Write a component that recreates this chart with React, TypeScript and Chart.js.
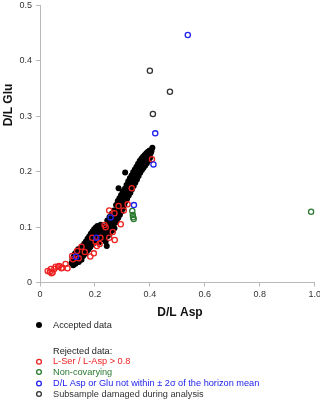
import React, { useEffect, useRef } from "react";
import { Chart, registerables } from "chart.js";

Chart.register(...registerables);

// D/L Asp (x) vs D/L Glu (y)
const acceptedData: [number, number][] = [
  [0.115, 0.035], [0.118, 0.042], [0.121, 0.031], [0.123, 0.047], [0.125, 0.038], [0.127, 0.052],
  [0.129, 0.034], [0.131, 0.044], [0.133, 0.056], [0.135, 0.040], [0.137, 0.049], [0.139, 0.060],
  [0.141, 0.037], [0.143, 0.053], [0.145, 0.045], [0.147, 0.062], [0.149, 0.050], [0.151, 0.041],
  [0.153, 0.058], [0.155, 0.066], [0.157, 0.048], [0.159, 0.055],
  [0.161, 0.070], [0.163, 0.061], [0.165, 0.052], [0.167, 0.074], [0.169, 0.065], [0.171, 0.057],
  [0.173, 0.079], [0.175, 0.068], [0.177, 0.060], [0.179, 0.083], [0.181, 0.073], [0.183, 0.064],
  [0.185, 0.088], [0.187, 0.077], [0.189, 0.068], [0.191, 0.092], [0.193, 0.081], [0.195, 0.071],
  [0.197, 0.096], [0.199, 0.086], [0.201, 0.075], [0.203, 0.099], [0.205, 0.090], [0.207, 0.079],
  [0.209, 0.102], [0.211, 0.093], [0.213, 0.083], [0.215, 0.072], [0.217, 0.097], [0.219, 0.088],
  [0.221, 0.104], [0.223, 0.078], [0.225, 0.093], [0.227, 0.084], [0.229, 0.100], [0.231, 0.090],
  [0.233, 0.081], [0.235, 0.096], [0.237, 0.087], [0.239, 0.074], [0.243, 0.066],
  [0.241, 0.102], [0.243, 0.093], [0.245, 0.112], [0.247, 0.084], [0.249, 0.106], [0.251, 0.097],
  [0.253, 0.118], [0.255, 0.089], [0.257, 0.109], [0.259, 0.100], [0.261, 0.124], [0.263, 0.094],
  [0.265, 0.113], [0.267, 0.104], [0.269, 0.130], [0.271, 0.098], [0.273, 0.119], [0.275, 0.108],
  [0.277, 0.140], [0.279, 0.112], [0.281, 0.126], [0.283, 0.147], [0.285, 0.117], [0.286, 0.170],
  [0.287, 0.134], [0.289, 0.152], [0.291, 0.122], [0.293, 0.140], [0.295, 0.158], [0.297, 0.128],
  [0.299, 0.146], [0.301, 0.164], [0.303, 0.134], [0.305, 0.152], [0.307, 0.140], [0.309, 0.169],
  [0.310, 0.1985], [0.311, 0.146], [0.313, 0.158], [0.315, 0.176], [0.317, 0.151], [0.319, 0.166],
  [0.321, 0.182], [0.323, 0.157], [0.325, 0.172], [0.327, 0.188], [0.329, 0.162], [0.331, 0.178],
  [0.333, 0.193], [0.335, 0.168], [0.337, 0.184], [0.339, 0.199], [0.341, 0.174], [0.343, 0.190],
  [0.345, 0.204], [0.347, 0.180], [0.349, 0.196], [0.351, 0.209], [0.353, 0.186], [0.355, 0.201],
  [0.357, 0.214], [0.359, 0.192], [0.361, 0.206], [0.363, 0.219], [0.365, 0.198], [0.367, 0.211],
  [0.369, 0.223], [0.371, 0.203], [0.373, 0.215], [0.375, 0.227], [0.377, 0.207], [0.379, 0.219],
  [0.381, 0.230], [0.383, 0.211], [0.385, 0.222], [0.387, 0.233], [0.389, 0.215], [0.391, 0.226],
  [0.393, 0.236], [0.395, 0.220], [0.397, 0.229], [0.399, 0.238], [0.401, 0.225], [0.403, 0.233],
  [0.406, 0.237], [0.409, 0.243],
];

const serAspData: [number, number][] = [
  [0.4075, 0.2225], [0.334, 0.170], [0.319, 0.141], [0.286, 0.138], [0.305, 0.130], [0.252, 0.130],
  [0.271, 0.125], [0.294, 0.105], [0.235, 0.1036], [0.239, 0.0995], [0.265, 0.091], [0.220, 0.0807],
  [0.252, 0.0807], [0.272, 0.0766], [0.190, 0.0807], [0.2025, 0.0735], [0.207, 0.0658], [0.217, 0.0694],
  [0.163, 0.055], [0.151, 0.0645], [0.135, 0.0568], [0.117, 0.0477], [0.141, 0.0436], [0.183, 0.047],
  [0.196, 0.0526], [0.120, 0.042], [0.093, 0.0333], [0.100, 0.0256], [0.082, 0.0267], [0.066, 0.0285],
  [0.052, 0.0243], [0.040, 0.0243], [0.028, 0.0207], [0.042, 0.0165], [0.057, 0.0285], [0.070, 0.0297],
  [0.046, 0.018], [0.036, 0.0195], [0.078, 0.0255],
];

const nonCovaryingData: [number, number][] = [
  [0.336, 0.129], [0.338, 0.1216], [0.339, 0.1175], [0.341, 0.1144], [0.987, 0.1276],
];

const outsideMeanData: [number, number][] = [
  [0.538, 0.4465], [0.4195, 0.269], [0.413, 0.213], [0.342, 0.1396], [0.257, 0.1174],
  [0.205, 0.0807], [0.131, 0.0465],
];

const damagedData: [number, number][] = [
  [0.400, 0.382], [0.411, 0.304], [0.473, 0.344],
];

const xRange = [0, 1];
const xStep = 0.2;
const yRange = [0, 0.5];
const yStep = 0.1;

const xTitle = "D/L Asp";
const yTitle = "D/L Glu";
const acceptedLabel = "Accepted data";
const rejectedHeader = "Rejected data:";
const rejectedLabels = [
  "L-Ser / L-Asp > 0.8",
  "Non-covarying",
  "D/L Asp or Glu not within ± 2σ of the horizon mean",
  "Subsample damaged during analysis",
];

const RED = "#ee2222";
const GREEN = "#2a7a30";
const BLUE = "#2222ee";
const DARK = "#333333";
const AXIS = "#b8b8b8";
const FONT = "'Liberation Sans', Arial, Helvetica, sans-serif";
const rejectedColors = [RED, GREEN, BLUE, DARK];
const rejectedRowY = [361.7, 372, 383.5, 394];

const toPoints = (arr: [number, number][]) => arr.map(([x, y]) => ({ x, y }));

const extraTextPlugin = {
  id: "extraText",
  afterDraw(chart: any) {
    const ctx: CanvasRenderingContext2D = chart.ctx;
    ctx.save();

    // y tick labels, from the library's own y scale
    const yScale = chart.scales.y;
    ctx.fillStyle = DARK;
    ctx.font = `9px ${FONT}`;
    ctx.textAlign = "right";
    ctx.textBaseline = "middle";
    const labelX = yScale.right - 4 - 4;
    yScale.ticks.forEach((t: any) => {
      const text = t.label !== undefined && t.label !== "" ? String(t.label) : String(t.value);
      ctx.fillText(text, labelX, yScale.getPixelForValue(t.value));
    });

    // axis titles
    ctx.fillStyle = "#111";
    ctx.font = `bold 12px ${FONT}`;
    ctx.textAlign = "center";
    ctx.textBaseline = "middle";
    ctx.save();
    ctx.translate(8.5, 105);
    ctx.rotate(-Math.PI / 2);
    ctx.fillText(yTitle, 0, 0);
    ctx.restore();
    ctx.fillText(xTitle, 180, 313);

    // legend
    const textX = 53;
    const markX = 39;
    ctx.font = `9.2px ${FONT}`;
    ctx.textAlign = "left";
    ctx.textBaseline = "middle";

    ctx.fillStyle = "#000";
    ctx.beginPath();
    ctx.arc(markX, 325, 3, 0, Math.PI * 2);
    ctx.fill();
    ctx.fillStyle = "#222";
    ctx.fillText(acceptedLabel, textX, 325);
    ctx.fillText(rejectedHeader, textX, 351);

    rejectedLabels.forEach((label, i) => {
      const cy = rejectedRowY[i];
      const color = rejectedColors[i];
      ctx.strokeStyle = color;
      ctx.lineWidth = 1.3;
      ctx.beginPath();
      ctx.arc(markX, cy, 2.4, 0, Math.PI * 2);
      ctx.stroke();
      ctx.fillStyle = color;
      ctx.fillText(label, textX, cy);
    });
    ctx.restore();
  },
};

export default function App() {
  const ref = useRef<HTMLCanvasElement | null>(null);

  useEffect(() => {
    if (!ref.current) return;
    const openDs = (label: string, data: [number, number][], color: string, order: number) => ({
      label,
      data: toPoints(data),
      pointRadius: 2.6,
      pointBorderWidth: 1.3,
      pointBorderColor: color,
      pointBackgroundColor: "rgba(0,0,0,0)",
      borderColor: color,
      backgroundColor: "rgba(0,0,0,0)",
      order,
    });
    const chart: any = new Chart(ref.current, {
      type: "scatter",
      data: {
        datasets: [
          {
            label: acceptedLabel,
            data: toPoints(acceptedData),
            pointRadius: 3,
            pointBorderWidth: 0,
            pointBackgroundColor: "#000",
            backgroundColor: "#000",
            borderColor: "#000",
            order: 5,
          },
          openDs(rejectedLabels[0], serAspData, RED, 4),
          openDs(rejectedLabels[1], nonCovaryingData, GREEN, 3),
          openDs(rejectedLabels[2], outsideMeanData, BLUE, 2),
          openDs(rejectedLabels[3], damagedData, DARK, 1),
        ],
      },
      options: {
        responsive: false,
        animation: false,
        layout: { padding: { top: 5, right: 3.5, left: 0, bottom: 0 } },
        plugins: { legend: { display: false }, tooltip: { enabled: false } },
        scales: {
          x: {
            type: "linear",
            min: xRange[0],
            max: xRange[1],
            afterFit: (s: any) => {
              s.height = 119.5;
              s.paddingLeft = 0;
              s.paddingRight = 0;
            },
            ticks: { stepSize: xStep, color: DARK, padding: 3, autoSkip: false, font: { size: 9, family: FONT }, maxRotation: 0 },
            grid: { drawOnChartArea: false, drawTicks: true, tickLength: 4, color: AXIS },
            border: { color: AXIS, width: 1 },
            title: { display: false },
          },
          y: {
            type: "linear",
            min: yRange[0],
            max: yRange[1],
            afterFit: (s: any) => {
              s.width = 40;
              s.paddingTop = 0;
              s.paddingBottom = 0;
            },
            ticks: { stepSize: yStep, display: false, autoSkip: false, font: { size: 9, family: FONT } },
            grid: { drawOnChartArea: false, drawTicks: true, tickLength: 4, color: AXIS },
            border: { color: AXIS, width: 1 },
            title: { display: false },
          },
        },
      },
      plugins: [extraTextPlugin],
    } as any);
    return () => chart.destroy();
  }, []);

  return (
    <div style={{ position: "absolute", left: 0, top: 0, width: 320, height: 402 }}>
      <canvas ref={ref} width={320} height={402} style={{ position: "absolute", left: 0, top: 0, width: 320, height: 402 }} />
    </div>
  );
}
